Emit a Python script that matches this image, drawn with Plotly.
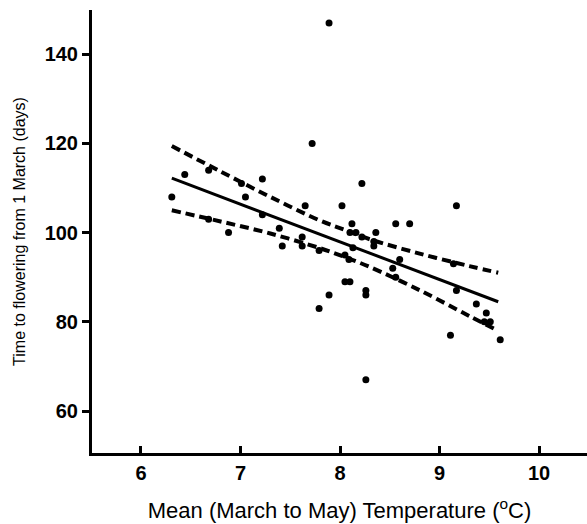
import plotly.graph_objects as go

# Scatter data: mean March-May temperature (°C) vs days to flowering from 1 March
temp = [6.31, 6.44, 6.68, 6.68, 6.88, 7.01, 7.05, 7.22, 7.22, 7.39,
        7.42, 7.62, 7.62, 7.65, 7.72, 7.79, 7.89, 7.89, 7.79, 8.02,
        8.22, 8.12, 8.10, 8.16, 8.22, 8.34, 8.34, 8.36, 8.13, 8.05,
        8.09, 8.05, 8.10, 8.26, 8.26, 8.26, 8.56, 8.70, 8.60, 8.53,
        8.56, 9.17, 9.14, 9.17, 9.37, 9.47, 9.45, 9.51, 9.11, 9.61]
days = [108, 113, 114, 103, 100, 111, 108, 112, 104, 101,
        97, 99, 97, 106, 120, 96, 147, 86, 83, 106,
        111, 102, 100, 100, 99, 98, 97, 100, 96.6, 95,
        94, 89, 89, 87, 86, 67, 102, 102, 94, 92,
        90, 106, 93, 87, 84, 82, 80, 80, 77, 76]

# Regression line
fit_x = [6.31, 9.59]
fit_y = [112.2, 84.5]

# 95% confidence band
ci_x = [6.31, 6.8, 7.3, 7.8, 8.05, 8.3, 8.8, 9.3, 9.59]
ci_upper = [119.4, 113.7, 108.0, 102.7, 100.6, 98.5, 95.3, 92.5, 91.0]
ci_lower = [105.0, 102.5, 99.8, 96.5, 94.5, 92.3, 87.1, 81.3, 78.0]

x_ticks = [6, 7, 8, 9, 10]
y_ticks = [60, 80, 100, 120, 140]

FONT = "Liberation Sans, Arial, sans-serif"

fig = go.Figure()
fig.add_trace(go.Scatter(x=temp, y=days, mode="markers",
                         marker=dict(color="black", size=7, line=dict(width=0)),
                         showlegend=False))
fig.add_trace(go.Scatter(x=fit_x, y=fit_y, mode="lines",
                         line=dict(color="black", width=3), showlegend=False))
for ys in (ci_upper, ci_lower):
    fig.add_trace(go.Scatter(x=ci_x, y=ys, mode="lines",
                             line=dict(color="black", width=4, dash="9px,5px", shape="spline"),
                             showlegend=False))

fig.update_layout(
    width=587, height=524,
    margin=dict(l=92, r=0, t=10, b=71),
    plot_bgcolor="white", paper_bgcolor="white",
    font=dict(family=FONT, color="black"),
)
fig.update_xaxes(
    range=[5.508, 10.482], tickvals=x_ticks,
    ticks="inside", ticklen=7, tickwidth=3, tickcolor="black",
    showline=True, linewidth=3, linecolor="black",
    showgrid=False, zeroline=False,
    tickfont=dict(family=FONT, size=20, weight="bold", color="black"),
    title=dict(text="Mean (March to May) Temperature (<sup>o</sup>C)",
               font=dict(family=FONT, size=22, color="black"), standoff=20),
)
fig.update_yaxes(
    range=[50.6, 149.9], tickvals=y_ticks,
    ticks="outside", ticklen=7, tickwidth=3, tickcolor="black",
    showline=True, linewidth=3, linecolor="black",
    showgrid=False, zeroline=False,
    tickfont=dict(family=FONT, size=20, weight="bold", color="black"),
    title=dict(text="Time to flowering from 1 March (days)",
               font=dict(family=FONT, size=16, color="black"), standoff=16),
)

fig.write_html("out.html")
